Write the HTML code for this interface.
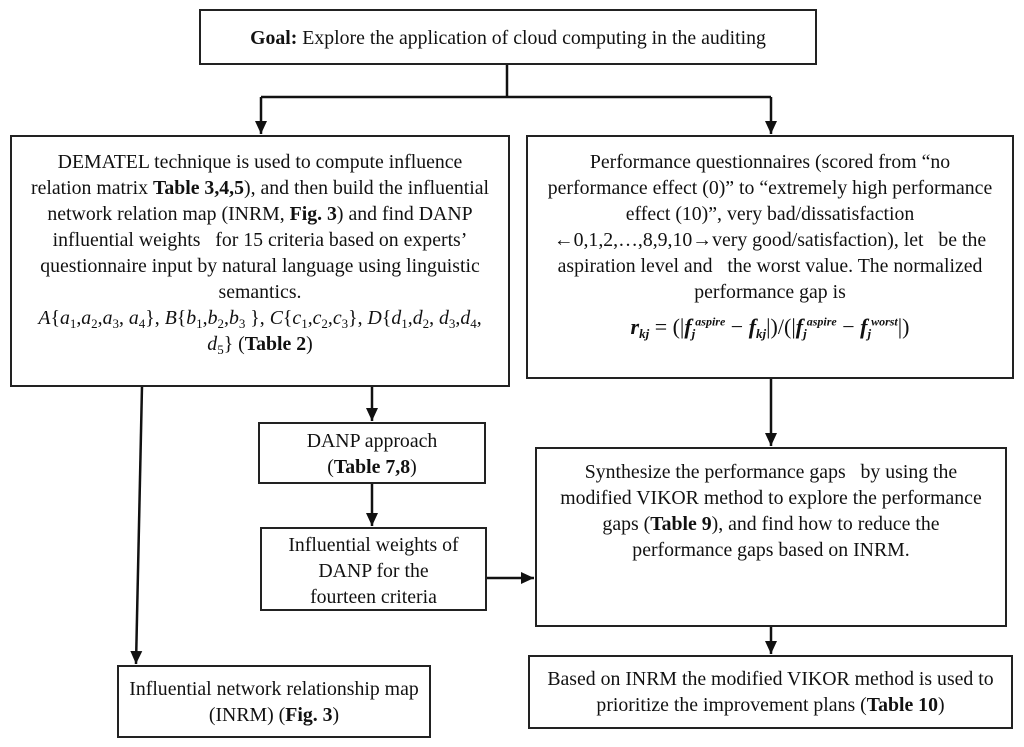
<!DOCTYPE html>
<html><head><style>
body{margin:0;width:1024px;height:747px;background:#fff;position:relative;font-family:"Liberation Serif",serif;color:#111;overflow:hidden}
.b{position:absolute;border:2px solid #222;box-sizing:border-box;text-align:center;font-size:19.8px;line-height:26px;white-space:nowrap}
i{font-style:italic}
sub{font-size:13px;vertical-align:-4px;line-height:0}
</style></head><body>
<svg width="1024" height="747" style="position:absolute;left:0;top:0">
<defs><marker id="a" markerWidth="14" markerHeight="14" refX="13" refY="6" orient="auto" markerUnits="userSpaceOnUse"><path d="M0,0L13,6L0,12z" fill="#111"/></marker></defs>
<g stroke="#111" stroke-width="2.5" fill="none">
<line x1="507" y1="64" x2="507" y2="97"/>
<line x1="261" y1="97" x2="771" y2="97"/>
<line x1="261" y1="97" x2="261" y2="134" marker-end="url(#a)"/>
<line x1="771" y1="97" x2="771" y2="134" marker-end="url(#a)"/>
<line x1="142" y1="386" x2="136" y2="664" marker-end="url(#a)"/>
<line x1="372" y1="386" x2="372" y2="421" marker-end="url(#a)"/>
<line x1="372" y1="483" x2="372" y2="526" marker-end="url(#a)"/>
<line x1="486" y1="578" x2="534" y2="578" marker-end="url(#a)"/>
<line x1="771" y1="378" x2="771" y2="446" marker-end="url(#a)"/>
<line x1="771" y1="626" x2="771" y2="654" marker-end="url(#a)"/>
</g></svg>
<div class="b" style="left:199px;top:9px;width:618px;height:56px;padding-top:14px"><b>Goal:</b> Explore the application of cloud computing in the auditing</div>
<div class="b" style="left:10px;top:135px;width:500px;height:252px;padding-top:12px">DEMATEL technique is used to compute influence<br>relation matrix <b>Table 3,4,5</b>), and then build the influential<br>network relation map (INRM, <b>Fig. 3</b>) and find DANP<br>influential weights &nbsp; for 15 criteria based on experts’<br>questionnaire input by natural language using linguistic<br>semantics.<br><i>A</i>{<i>a</i><sub>1</sub>,<i>a</i><sub>2</sub>,<i>a</i><sub>3</sub>, <i>a</i><sub>4</sub>}, <i>B</i>{<i>b</i><sub>1</sub>,<i>b</i><sub>2</sub>,<i>b</i><sub>3</sub> }, <i>C</i>{<i>c</i><sub>1</sub>,<i>c</i><sub>2</sub>,<i>c</i><sub>3</sub>}, <i>D</i>{<i>d</i><sub>1</sub>,<i>d</i><sub>2</sub>, <i>d</i><sub>3</sub>,<i>d</i><sub>4</sub>,<br><i>d</i><sub>5</sub>} (<b>Table 2</b>)</div>
<div class="b" style="left:526px;top:135px;width:488px;height:244px;padding-top:12px">Performance questionnaires (scored from “no<br>performance effect (0)” to “extremely high performance<br>effect (10)”, very bad/dissatisfaction<br>←0,1,2,…,8,9,10→very good/satisfaction), let &nbsp; be the<br>aspiration level and &nbsp; the worst value. The normalized<br>performance gap is<br><span style="font-size:22px;line-height:34px"><b><i>r<sub>kj</sub></i></b> = (|<b><i>f</i></b><sub><b><i>j</i></b></sub><sup style="font-size:12px"><b><i>aspire</i></b></sup> − <b><i>f<sub>kj</sub></i></b>|)/(|<b><i>f</i></b><sub><b><i>j</i></b></sub><sup style="font-size:12px"><b><i>aspire</i></b></sup> − <b><i>f</i></b><sub><b><i>j</i></b></sub><sup style="font-size:12px"><b><i>worst</i></b></sup>|)</span></div>
<div class="b" style="left:258px;top:422px;width:228px;height:62px;padding-top:4px">DANP approach<br>(<b>Table 7,8</b>)</div>
<div class="b" style="left:260px;top:527px;width:227px;height:84px;padding-top:3px">Influential weights of<br>DANP for the<br>fourteen criteria</div>
<div class="b" style="left:535px;top:447px;width:472px;height:180px;padding-top:10px">Synthesize the performance gaps &nbsp; by using the<br>modified VIKOR method to explore the performance<br>gaps (<b>Table 9</b>), and find how to reduce the<br>performance gaps based on INRM.</div>
<div class="b" style="left:117px;top:665px;width:314px;height:73px;padding-top:9px">Influential network relationship map<br>(INRM) (<b>Fig. 3</b>)</div>
<div class="b" style="left:528px;top:655px;width:485px;height:74px;padding-top:9px">Based on INRM the modified VIKOR method is used to<br>prioritize the improvement plans (<b>Table 10</b>)</div>
</body></html>
